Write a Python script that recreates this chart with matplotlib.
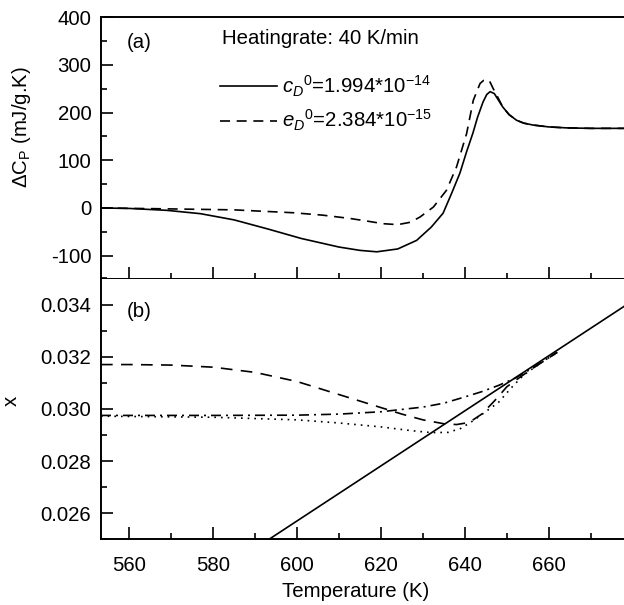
import matplotlib
matplotlib.use("Agg")
import matplotlib.pyplot as plt
from matplotlib.ticker import MultipleLocator

plt.rcParams['font.family'] = ['Liberation Sans', 'DejaVu Sans']
plt.rcParams['mathtext.fontset'] = 'custom'
plt.rcParams['mathtext.rm'] = 'Liberation Sans'
plt.rcParams['mathtext.it'] = 'Liberation Sans:italic'
plt.rcParams['mathtext.bf'] = 'Liberation Sans:bold'
plt.rcParams['axes.unicode_minus'] = False

FS = 14.7

# ---- panel (a): excess heat capacity, heating rate 40 K/min ----
T_cd = [553.3, 560, 569, 577, 585, 593, 601, 610, 615, 619, 624, 628.5, 632,
        634.8, 636.8, 638.8, 640.4, 641.9, 643, 644.3, 645.2, 646, 647, 648,
        649, 650.5, 652.3, 654, 656.2, 660, 664.2, 670, 677.9]
dcp_cd = [0, -1, -5, -12, -25, -44, -64, -82, -89, -92, -86, -68, -40,
          -11, 30, 73, 118, 157, 190, 222, 238, 244, 240, 226,
          212, 196, 184, 178, 174, 170, 168, 167, 167]

T_ed = [553.3, 570, 585, 599, 606, 612.6, 617, 620.5, 624, 627, 629.3, 632.5,
        635.6, 638, 640.4, 642, 643.6, 644.5, 645.2, 646, 646.7, 647.5,
        649, 650.5, 652.3, 654, 656.2, 660, 664.2, 670, 677.9]
dcp_ed = [0, -2, -4, -10, -15, -22, -28, -33, -35, -30, -19, 2,
          37, 86, 156, 226, 261, 268, 270, 264, 251, 238,
          212, 196, 184, 178, 174, 170, 168, 167, 167]

# ---- panel (b): order parameter x ----
T_eq = [585, 678]
x_eq = [0.02412, 0.03394]

T_dash = [553.3, 560, 570, 580, 590, 600, 610, 620, 625, 630, 635, 638, 641,
          644, 647, 650, 653, 656, 662]
x_dash = [0.03170, 0.03170, 0.03168, 0.03160, 0.03140, 0.03105, 0.03055,
          0.03005, 0.02980, 0.02958, 0.02943, 0.02940, 0.02948, 0.02980,
          0.03030, 0.03085, 0.03120, 0.03154, 0.03217]

T_dd = [553.3, 580, 600, 610, 620, 630, 635, 640, 644, 648, 652, 656, 662]
x_dd = [0.02975, 0.02975, 0.02976, 0.02980, 0.02989, 0.03007, 0.03022,
        0.03046, 0.03066, 0.03090, 0.03118, 0.03156, 0.03217]

T_dot = [553.3, 580, 600, 610, 620, 627, 632, 636, 639, 642, 645, 648, 651,
         654, 658, 662]
x_dot = [0.02972, 0.02968, 0.02958, 0.02946, 0.02931, 0.02917, 0.02909,
         0.02910, 0.02925, 0.02955, 0.02990, 0.03025, 0.03080, 0.03130,
         0.03175, 0.03217]

W, H = 624, 605
fig = plt.figure(figsize=(W / 100, H / 100), dpi=100)

left = 101 / W
right = 1.0
ya_top = 1 - 17.3 / H
y_mid = 1 - 278.5 / H
yb_bot = 1 - 539.3 / H
aw = W - 101

ax1 = fig.add_axes([left, y_mid, right - left, ya_top - y_mid])
ax2 = fig.add_axes([left, yb_bot, right - left, y_mid - yb_bot], sharex=ax1)

LW = 1.2
ax1.plot(T_cd, dcp_cd, color='black', lw=LW, ls='-',
         label=r'$c_D{}^{\mathit{0}}$=1.994*10$^{\mathregular{-14}}$')
ax1.plot(T_ed, dcp_ed, color='black', lw=LW, ls=(0, (6, 4)),
         label=r'$e_D{}^{\mathit{0}}$=2.384*10$^{\mathregular{-15}}$')

ax2.plot(T_eq, x_eq, color='black', lw=LW, ls='-')
ax2.plot(T_dash, x_dash, color='black', lw=LW, ls=(0, (7, 5)))
ax2.plot(T_dd, x_dd, color='black', lw=LW, ls=(0, (6, 3, 1.2, 3)))
ax2.plot(T_dot, x_dot, color='black', lw=LW, ls=(0, (1, 3)))

ax1.set_xlim(553.3, 677.9)
ax1.set_ylim(-148, 400)
ax2.set_ylim(0.025, 0.035)

for ax in (ax1, ax2):
    ax.spines['right'].set_visible(False)
    for s in ('left', 'top', 'bottom'):
        ax.spines[s].set_linewidth(1.4)
    ax.xaxis.set_major_locator(MultipleLocator(20))
    ax.xaxis.set_minor_locator(MultipleLocator(10))
    ax.tick_params(which='both', direction='in', top=False, right=False,
                   width=1.2, labelsize=FS)
    ax.tick_params(which='major', length=8.6)
    ax.tick_params(which='minor', length=4.3)
    ax.tick_params(axis='y', pad=7)
    ax.tick_params(axis='x', pad=12)

ax1.yaxis.set_major_locator(MultipleLocator(100))
ax1.yaxis.set_minor_locator(MultipleLocator(50))
ax2.yaxis.set_major_locator(MultipleLocator(0.002))
ax2.yaxis.set_minor_locator(MultipleLocator(0.001))
ax2.yaxis.set_major_formatter(plt.FormatStrFormatter('%.3f'))
ax1.tick_params(axis='x', labelbottom=False)
ax2.spines['top'].set_visible(False)

ax1.set_ylabel('ΔC$_\\mathregular{P}$ (mJ/g.K)', fontsize=FS)
ax1.yaxis.set_label_coords((33 - 101) / aw, 0.58)
ax2.set_ylabel('x', fontsize=FS)
ax2.yaxis.set_label_coords((21 - 101) / aw, 0.53)
ax2.set_xlabel('Temperature (K)', fontsize=FS)
ax2.xaxis.set_label_coords(0.486, -0.165)

ax1.text(0.05, 0.905, '(a)', transform=ax1.transAxes, fontsize=FS,
         va='center', ha='left')
ax2.text(0.05, 0.875, '(b)', transform=ax2.transAxes, fontsize=FS,
         va='center', ha='left')
ax1.text((222 - 101) / aw, 0.918, 'Heatingrate: 40 K/min',
         transform=ax1.transAxes, fontsize=FS, va='center', ha='left')

ax1.legend(loc='upper left', bbox_to_anchor=((220 - 101) / aw, 0.784),
           frameon=False, fontsize=FS, handlelength=2.8, handletextpad=0.25,
           labelspacing=0.45, borderaxespad=0, borderpad=0)

fig.savefig('out.png', dpi=100)
